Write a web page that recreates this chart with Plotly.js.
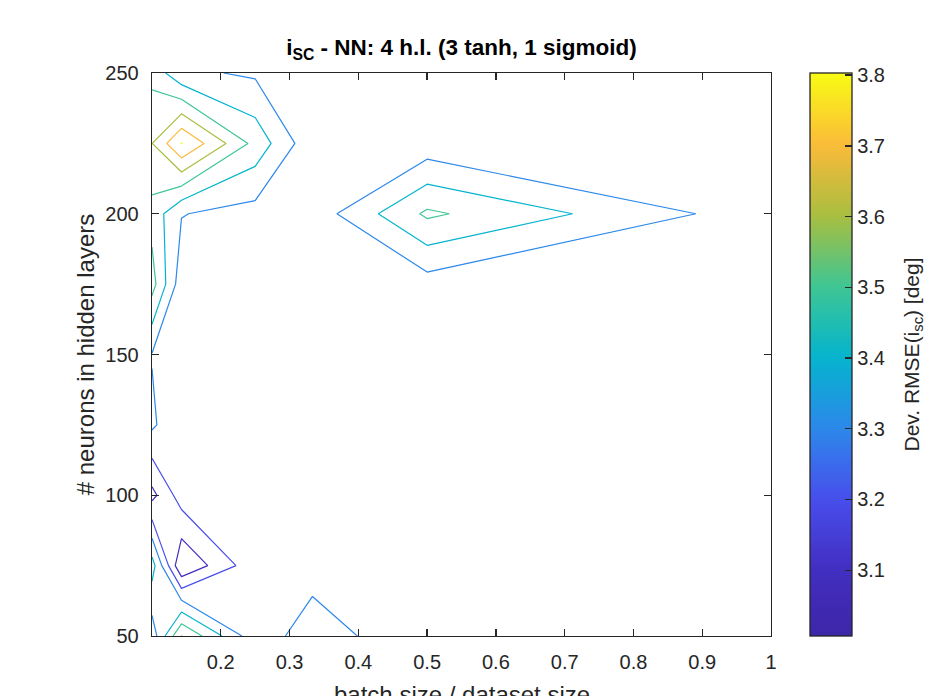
<!DOCTYPE html>
<html>
<head>
<meta charset="utf-8">
<script src="https://cdn.plot.ly/plotly-3.0.1.min.js"></script>
<style>
  html, body { margin: 0; padding: 0; background: #ffffff; }
  #chart { width: 927px; height: 696px; }
</style>
</head>
<body>
<div id="chart"></div>
<script>
// ---- data ----
const batchFrac = [0.1, 1/7, 0.25, 1/3, 0.5, 1];          // batch size / dataset size
const neurons   = [50, 75, 100, 125, 150, 175, 200, 225, 250]; // # neurons in hidden layers
// Dev. RMSE(i_sc) [deg], one row per neuron count, one value per batch fraction
const rmse050 = [3.240, 3.603, 3.234, 3.359, 3.208, 3.245];
const rmse075 = [3.446, 3.007, 3.268, 3.254, 3.262, 3.250];
const rmse100 = [3.070, 3.249, 3.272, 3.262, 3.258, 3.252];
const rmse125 = [3.318, 3.209, 3.250, 3.258, 3.262, 3.255];
const rmse150 = [3.2955, 3.232, 3.248, 3.255, 3.255, 3.250];
const rmse175 = [3.540, 3.240, 3.252, 3.258, 3.255, 3.248];
const rmse200 = [3.464, 3.304, 3.262, 3.241, 3.518, 3.239];
const rmse225 = [3.598, 3.803, 3.467, 3.226, 3.237, 3.250];
const rmse250 = [3.469, 3.320, 3.285, 3.250, 3.262, 3.252];
const xTicks = [0.2, 0.3, 0.4, 0.5, 0.6, 0.7, 0.8, 0.9, 1];
const yTicks = [50, 100, 150, 200, 250];
const cbTicks = [3.1, 3.2, 3.3, 3.4, 3.5, 3.6, 3.7, 3.8];
const levelStart = 3.1, levelEnd = 3.8, levelStep = 0.1;

const z = [rmse050, rmse075, rmse100, rmse125, rmse150, rmse175, rmse200, rmse225, rmse250];
const allZ = z.flat();
const cmin = Math.min(...allZ), cmax = Math.max(...allZ);

// ---- parula-like colormap ----
const parulaStops = [
  [0.000, [62, 38, 168]],
  [0.117, [66, 46, 192]],
  [0.243, [72, 78, 236]],
  [0.368, [44, 136, 234]],
  [0.494, [4, 180, 206]],
  [0.620, [62, 198, 148]],
  [0.745, [168, 190, 64]],
  [0.870, [250, 186, 58]],
  [1.000, [249, 251, 20]]
];
function parula(f) {
  f = Math.max(0, Math.min(1, f));
  for (let i = 1; i < parulaStops.length; i++) {
    const [f1, c1] = parulaStops[i];
    const [f0, c0] = parulaStops[i - 1];
    if (f <= f1) {
      const t = (f - f0) / (f1 - f0);
      const c = c0.map((v, k) => Math.round(v + t * (c1[k] - v)));
      return 'rgb(' + c.join(',') + ')';
    }
  }
  return 'rgb(249,251,20)';
}
// colourscale for the colourbar (full data range)
const cbScale = [];
for (let i = 0; i <= 40; i++) cbScale.push([i / 40, parula(i / 40)]);
// colourscale for contour lines: Plotly maps it onto [levelStart, levelEnd]
const nLev = Math.round((levelEnd - levelStart) / levelStep);
const lineScale = [];
for (let k = 0; k <= nLev; k++) {
  const v = levelStart + k * levelStep;
  lineScale.push([k / nLev, parula((v - cmin) / (cmax - cmin))]);
}

const font = 'Liberation Sans, Arial, Helvetica, sans-serif';
const axisColor = '#262626';

const contourTrace = {
  type: 'contour',
  x: batchFrac,
  y: neurons,
  z: z,
  colorscale: lineScale,
  showscale: false,
  contours: { start: levelStart, end: levelEnd, size: levelStep, coloring: 'lines' },
  line: { width: 1.2, smoothing: 0 },
  hoverinfo: 'x+y+z'
};

const colorbarTrace = {
  type: 'scatter',
  mode: 'markers',
  x: [batchFrac[0], batchFrac[0]],
  y: [neurons[0], neurons[0]],
  hoverinfo: 'skip',
  showlegend: false,
  marker: {
    opacity: 0,
    color: [cmin, cmax],
    cmin: cmin, cmax: cmax,
    colorscale: cbScale,
    showscale: true,
    colorbar: {
      x: (810 - 152) / 619, xanchor: 'left', xref: 'paper',
      y: 0.5, yanchor: 'middle', len: 1, lenmode: 'fraction',
      thickness: 42, thicknessmode: 'pixels',
      xpad: 0, ypad: 0,
      outlinewidth: 1.3, outlinecolor: axisColor,
      ticks: 'inside', ticklen: 7, tickcolor: axisColor, tickwidth: 1.3,
      tickvals: cbTicks, ticktext: cbTicks.map(v => v.toFixed(1)),
      tickfont: { family: font, size: 20, color: axisColor },
      ticklabelstandoff: 6
    }
  }
};

const layout = {
  width: 927, height: 696,
  paper_bgcolor: '#ffffff', plot_bgcolor: '#ffffff',
  margin: { l: 152, r: 156, t: 73, b: 60, pad: 0 },
  showlegend: false,
  font: { family: font, size: 20, color: axisColor },
  title: {
    text: '<b>i<sub>SC</sub> - NN: 4 h.l. (3 tanh, 1 sigmoid)</b>',
    font: { family: font, size: 22.5, color: '#000000' },
    x: 0.5, xref: 'paper', xanchor: 'center',
    y: 1 - 47 / 696, yref: 'container', yanchor: 'middle'
  },
  xaxis: {
    range: [0.1, 1], tickvals: xTicks, ticktext: xTicks.map(v => v === 1 ? '1' : v.toFixed(1)),
    ticks: 'inside', ticklen: 7, tickwidth: 1.3, tickcolor: axisColor,
    showline: true, linecolor: axisColor, linewidth: 1.3, mirror: 'ticks',
    showgrid: false, zeroline: false,
    tickfont: { family: font, size: 20, color: axisColor },
    ticklabelstandoff: 8
  },
  yaxis: {
    range: [50, 250], tickvals: yTicks,
    ticks: 'inside', ticklen: 7, tickwidth: 1.3, tickcolor: axisColor,
    showline: true, linecolor: axisColor, linewidth: 1.3, mirror: 'ticks',
    showgrid: false, zeroline: false,
    tickfont: { family: font, size: 20, color: axisColor },
    ticklabelstandoff: 8,
    title: { text: '# neurons in hidden layers', font: { family: font, size: 24, color: axisColor }, standoff: 4 }
  },
  annotations: [{
    text: 'batch size / dataset size',
    xref: 'paper', yref: 'paper',
    x: 0.5, y: -(694 - 636) / 563,
    xanchor: 'center', yanchor: 'middle',
    showarrow: false,
    font: { family: font, size: 24, color: axisColor }
  }, {
    text: 'Dev. RMSE(i<sub>sc</sub>) [deg]',
    textangle: -90,
    xref: 'paper', yref: 'paper',
    x: (912 - 152) / 619, y: 0.5,
    xanchor: 'center', yanchor: 'middle',
    showarrow: false,
    font: { family: font, size: 21, color: axisColor }
  }]
};

Plotly.newPlot('chart', [contourTrace, colorbarTrace], layout, { displayModeBar: false, staticPlot: true });
</script>
</body>
</html>
